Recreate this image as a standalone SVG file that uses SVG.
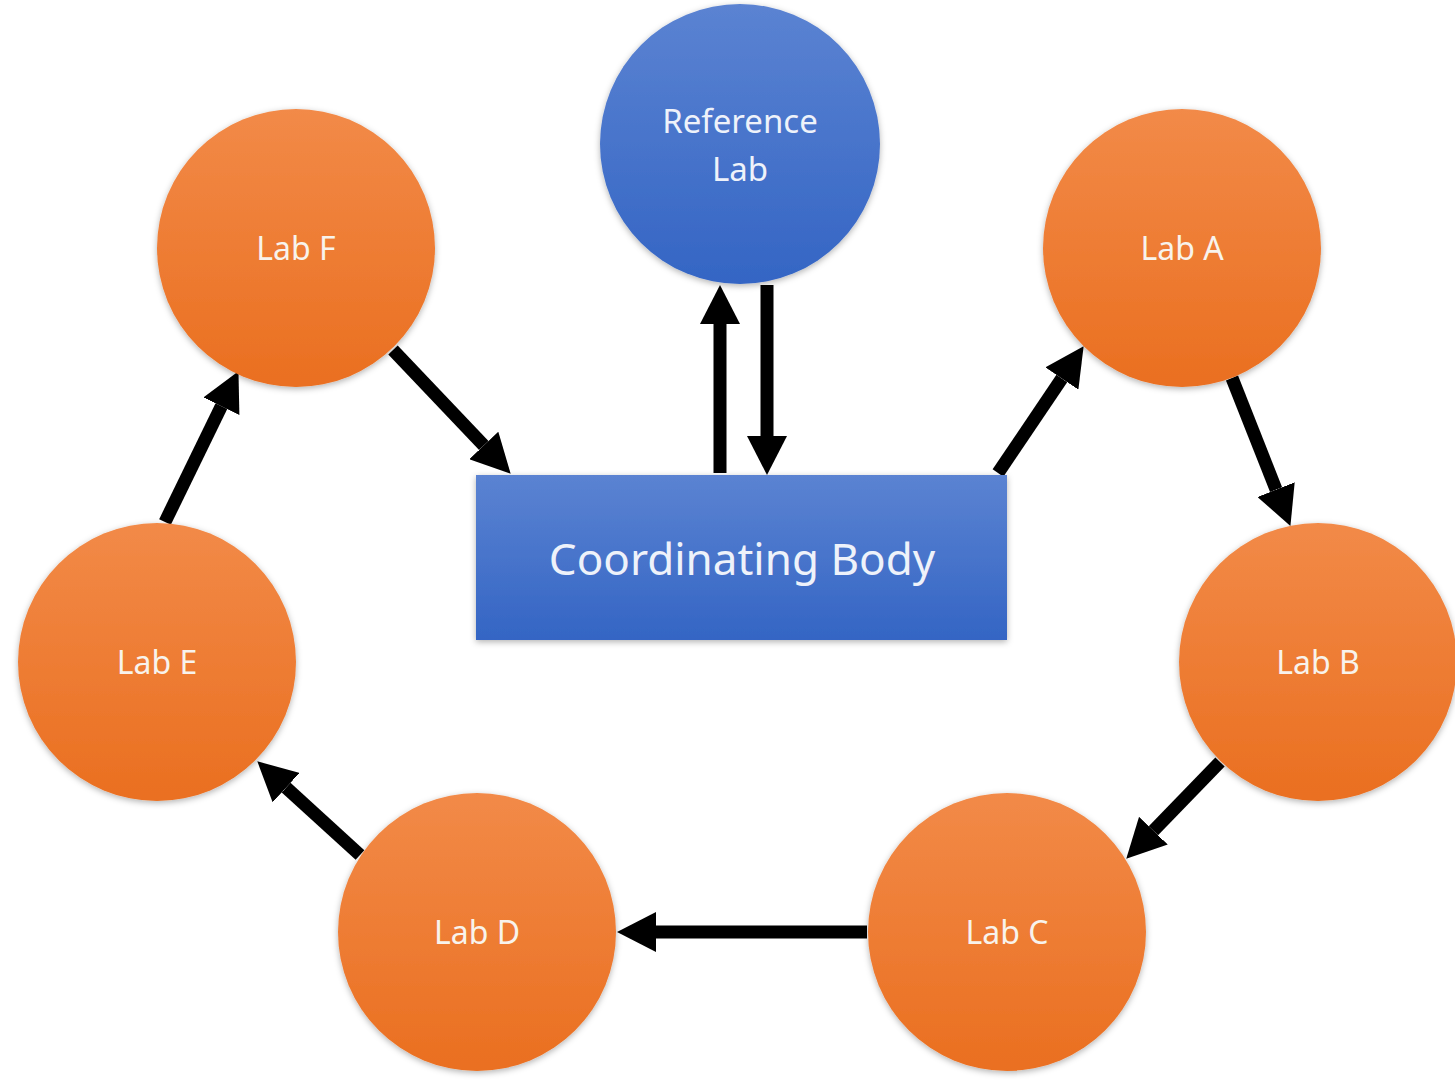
<svg xmlns="http://www.w3.org/2000/svg" width="1455" height="1081" viewBox="0 0 1455 1081">
<defs>
<linearGradient id="gOrange" x1="0" y1="0" x2="0" y2="1">
<stop offset="0" stop-color="#F28A48"/>
<stop offset="1" stop-color="#EA6F20"/>
</linearGradient>
<linearGradient id="gBlue" x1="0" y1="0" x2="0" y2="1">
<stop offset="0" stop-color="#5B83D2"/>
<stop offset="1" stop-color="#3465C4"/>
</linearGradient>
<filter id="sh" x="-20%" y="-20%" width="140%" height="140%">
<feDropShadow dx="0" dy="2" stdDeviation="3" flood-color="#000" flood-opacity="0.3"/>
</filter>
<marker id="ah" markerUnits="userSpaceOnUse" markerWidth="40" markerHeight="40" refX="0" refY="20" viewBox="0 0 40 40" orient="auto">
<path d="M0,0 L39,20 L0,40 Z" fill="#000"/>
</marker>
</defs>
<style>
.orange{fill:url(#gOrange);filter:url(#sh)}
.blue{fill:url(#gBlue);filter:url(#sh)}
.lbl{font-family:"Noto Sans","Open Sans","DejaVu Sans",sans-serif;fill:#F8F3EC;text-anchor:middle;font-size:32px}
.lblb{font-family:"Noto Sans","Open Sans","DejaVu Sans",sans-serif;fill:#EEF2FA;text-anchor:middle}
.arr{stroke:#000;stroke-width:13;fill:none;marker-end:url(#ah)}
</style>
<rect width="1455" height="1081" fill="#fff"/>
<g id="connectors">
<path class="arr" d="M393,350 L483.8,445.5"/>
<path class="arr" d="M998,473 L1061.8,378.5"/>
<path class="arr" d="M1232,378 L1276.1,489.7"/>
<path class="arr" d="M1220,762 L1153.4,830.7"/>
<path class="arr" d="M867,932 L656,932"/>
<path class="arr" d="M360,855 L286.1,787.6"/>
<path class="arr" d="M165,522 L221.4,406.2"/>
<path class="arr" d="M720,473 L720,324"/>
<path class="arr" d="M767,285 L767,436"/>
</g>
<g id="reference-lab">
<circle class="blue" cx="740" cy="144" r="140"/>
<text class="lblb" x="740" y="133" font-size="33">Reference</text>
<text class="lblb" x="740" y="181" font-size="33">Lab</text>
</g>
<g id="coordinating-body">
<rect class="blue" x="476" y="475" width="531" height="165"/>
<text class="lblb" x="742" y="575" font-size="44">Coordinating Body</text>
</g>
<g id="lab-f">
<circle class="orange" cx="296" cy="248" r="139"/>
<text class="lbl" x="296" y="260">Lab F</text>
</g>
<g id="lab-a">
<circle class="orange" cx="1182" cy="248" r="139"/>
<text class="lbl" x="1182" y="260">Lab A</text>
</g>
<g id="lab-b">
<circle class="orange" cx="1318" cy="662" r="139"/>
<text class="lbl" x="1318" y="674">Lab B</text>
</g>
<g id="lab-c">
<circle class="orange" cx="1007" cy="932" r="139"/>
<text class="lbl" x="1007" y="944">Lab C</text>
</g>
<g id="lab-d">
<circle class="orange" cx="477" cy="932" r="139"/>
<text class="lbl" x="477" y="944">Lab D</text>
</g>
<g id="lab-e">
<circle class="orange" cx="157" cy="662" r="139"/>
<text class="lbl" x="157" y="674">Lab E</text>
</g>
</svg>
